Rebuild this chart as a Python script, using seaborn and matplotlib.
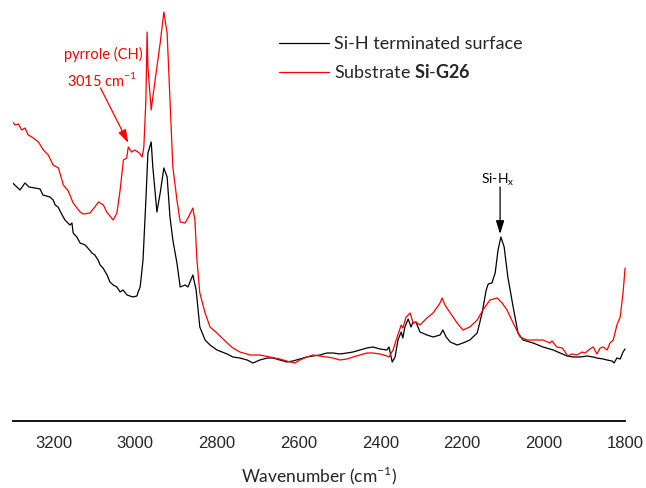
import numpy as np
import pandas as pd
import matplotlib
matplotlib.use("Agg")
import matplotlib.pyplot as plt
import seaborn as sns
from matplotlib.lines import Line2D

# Si-H terminated surface (black), wavenumber in cm-1, absorbance in a.u.
wn_sih = [3300, 3282, 3270, 3260, 3245, 3233, 3226, 3209, 3201, 3196, 3189, 3179, 3172, 3160,
          3155, 3152, 3143, 3135, 3123, 3116, 3106, 3099, 3091, 3086, 3079, 3069, 3062, 3054,
          3045, 3037, 3030, 3020, 3006, 2996, 2993, 2988, 2981, 2974, 2969, 2961, 2957, 2947,
          2939, 2930, 2922, 2915, 2908, 2898, 2890, 2878, 2871, 2859, 2851, 2842, 2829, 2817,
          2800, 2775, 2761, 2744, 2726, 2712, 2695, 2677, 2663, 2646, 2629, 2614, 2597, 2580,
          2565, 2548, 2531, 2516, 2499, 2482, 2467, 2450, 2433, 2418, 2401, 2384, 2379, 2371,
          2364, 2357, 2349, 2345, 2340, 2332, 2325, 2320, 2318, 2313, 2303, 2286, 2271, 2254,
          2247, 2239, 2229, 2212, 2198, 2181, 2163, 2151, 2141, 2136, 2127, 2119, 2112, 2105,
          2097, 2088, 2075, 2063, 2051, 2026, 2002, 1977, 1960, 1943, 1928, 1911, 1894, 1879,
          1870, 1855, 1845, 1833, 1828, 1821, 1813, 1806, 1801]
ab_sih = [238, 231, 238, 234, 233, 232, 226, 224, 221, 216, 214, 206, 201, 196,
          198, 188, 184, 178, 176, 173, 168, 166, 161, 156, 153, 146, 139, 136,
          134, 129, 131, 126, 124, 125, 129, 134, 161, 221, 268, 279, 254, 209,
          228, 253, 244, 204, 181, 158, 134, 136, 134, 146, 131, 94, 81, 76,
          71, 67, 64, 63, 61, 58, 61, 63, 63, 61, 59, 60, 62, 64,
          65, 66, 68, 68, 67, 68, 69, 71, 73, 74, 72, 71, 74, 59,
          64, 81, 89, 83, 94, 102, 94, 99, 98, 99, 89, 86, 84, 86,
          91, 84, 79, 76, 78, 81, 88, 108, 131, 137, 138, 148, 171, 184,
          174, 144, 114, 88, 81, 78, 74, 71, 68, 65, 64, 64, 65, 64,
          63, 62, 61, 60, 58, 63, 62, 69, 72]

# Substrate Si-G26 (red)
wn_g26 = [3300, 3294, 3286, 3278, 3270, 3262, 3253, 3237, 3225, 3213, 3201, 3188, 3176, 3164,
          3152, 3135, 3127, 3111, 3099, 3090, 3078, 3070, 3054, 3045, 3037, 3029, 3021, 3017,
          3009, 3001, 2990, 2983, 2979, 2974, 2971, 2969, 2961, 2957, 2947, 2939, 2930, 2922,
          2915, 2908, 2898, 2890, 2878, 2871, 2859, 2854, 2849, 2842, 2829, 2817, 2800, 2775,
          2761, 2744, 2719, 2695, 2670, 2646, 2621, 2609, 2597, 2580, 2565, 2548, 2531, 2516,
          2499, 2482, 2467, 2450, 2433, 2418, 2401, 2384, 2379, 2369, 2359, 2349, 2345, 2337,
          2327, 2320, 2313, 2303, 2286, 2271, 2254, 2249, 2242, 2229, 2212, 2198, 2181, 2163,
          2149, 2132, 2114, 2102, 2090, 2075, 2058, 2041, 2017, 2002, 1985, 1980, 1968, 1955,
          1948, 1941, 1931, 1919, 1906, 1899, 1887, 1879, 1870, 1862, 1855, 1845, 1838, 1830,
          1821, 1813, 1806, 1801]
ab_g26 = [299, 296, 297, 291, 293, 286, 284, 279, 271, 266, 256, 253, 236, 230,
          218, 209, 207, 208, 214, 219, 216, 209, 201, 208, 231, 261, 263, 274,
          269, 271, 268, 264, 274, 321, 389, 354, 311, 324, 354, 378, 409, 388,
          321, 254, 221, 199, 198, 203, 213, 201, 161, 128, 108, 94, 88, 78,
          73, 69, 66, 66, 64, 62, 59, 58, 61, 64, 66, 65, 64, 63,
          61, 62, 64, 66, 68, 68, 67, 65, 64, 71, 84, 96, 93, 104,
          108, 98, 99, 96, 103, 108, 118, 123, 116, 108, 98, 91, 94, 101,
          111, 121, 123, 118, 111, 98, 84, 81, 81, 81, 78, 80, 74, 73,
          69, 65, 67, 66, 69, 68, 72, 74, 67, 73, 74, 71, 78, 81,
          96, 104, 128, 153]

df = pd.concat([
    pd.DataFrame({"wn": wn_sih, "ab": ab_sih, "sample": "Si-H terminated surface"}),
    pd.DataFrame({"wn": wn_g26, "ab": ab_g26, "sample": "g26"}),
])

sns.set_style("white")
plt.rcParams["font.family"] = ["Lato", "DejaVu Sans"]
plt.rcParams["mathtext.fontset"] = "custom"
plt.rcParams["mathtext.rm"] = "Lato"
plt.rcParams["mathtext.bf"] = "Lato:bold"

fig = plt.figure(figsize=(6.46, 4.88), dpi=100)
ax = fig.add_axes([12.7 / 646, 1 - 421 / 488, (625.5 - 12.7) / 646, 421 / 488])

sns.lineplot(data=df, x="wn", y="ab", hue="sample",
             palette={"Si-H terminated surface": "black", "g26": "#ff0000"},
             estimator=None, linewidth=0.9, ax=ax, legend=False)

ax.set_xlim(3300, 1800)
ax.set_ylim(0, 421)
ax.set_xticks(np.arange(3200, 1799, -200))
ax.set_xticks(np.arange(3300, 1799, -100), minor=True)
ax.set_yticks([])
ax.set_ylabel("")
for s in ["left", "right", "top"]:
    ax.spines[s].set_visible(False)
ax.spines["bottom"].set_linewidth(1.3)
ax.spines["bottom"].set_color("black")
ax.tick_params(axis="x", which="major", direction="out", length=7, width=1.3, color="black",
               labelsize=12, pad=4)
ax.tick_params(axis="x", which="minor", direction="out", length=4, width=1.3, color="black")
for lab in ax.get_xticklabels():
    lab.set_fontfamily("Liberation Sans")
ax.set_xlabel("Wavenumber (cm$^{-1}$)", fontsize=12.5, labelpad=10)

# legend
handles = [Line2D([], [], color="black", lw=0.9), Line2D([], [], color="#ff0000", lw=0.9)]
labels = ["Si-H terminated surface", r"Substrate $\mathbf{Si\text{-}G26}$"]
fig.legend(handles, labels, loc="upper left", bbox_to_anchor=(279 / 646, 1 - 36 / 488),
           frameon=False, fontsize=13, handlelength=2.75, handletextpad=0.3,
           labelspacing=0.62, borderpad=0, borderaxespad=0)

# annotations
arrow_kw = dict(arrowstyle="-|>,head_length=0.8,head_width=0.25", lw=0.9, shrinkA=0, shrinkB=0)
ax.annotate("", xy=(3017, 278), xytext=(3085, 333), arrowprops=dict(color="#ff0000", **arrow_kw))
ax.text(3079, 367, "pyrrole (CH)", color="#ff0000", fontsize=10.5, ha="center", va="center")
ax.text(3082, 341, "3015 cm$^{-1}$", color="#ff0000", fontsize=10.5, ha="center", va="center")

ax.annotate("", xy=(2107, 187), xytext=(2107, 234), arrowprops=dict(color="black", **arrow_kw))
ax.text(2112, 241, "Si-H$_\\mathrm{x}$", color="black", fontsize=10, ha="center", va="center")

fig.savefig("out.png", dpi=100)
